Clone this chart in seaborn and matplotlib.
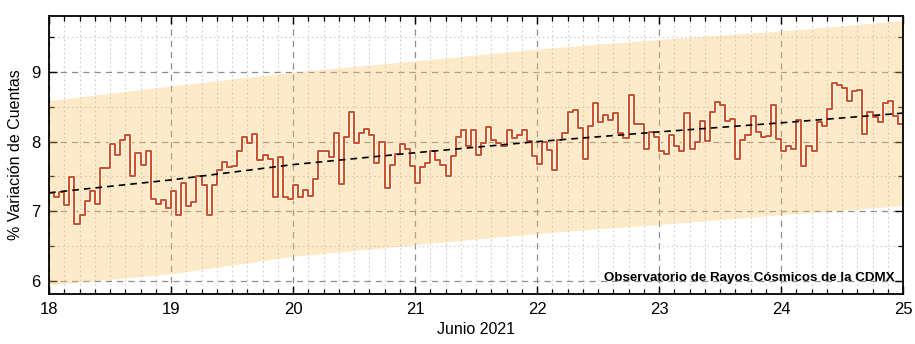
import numpy as np
import pandas as pd
import matplotlib
matplotlib.use("Agg")
import matplotlib.pyplot as plt
import matplotlib.patheffects as pe
from matplotlib.ticker import MultipleLocator
import seaborn as sns

# ---------------- data ----------------
start_day = 18
hourly_values = [
    7.26, 7.21, 7.28, 7.09, 7.49, 6.81, 6.95, 7.15, 7.29, 7.10,
    7.62, 7.62, 7.97, 7.81, 8.02, 8.09, 7.51, 7.84, 7.66, 7.87,
    7.17, 7.11, 7.16, 7.05, 7.29, 6.95, 7.41, 7.08, 7.13, 7.50,
    7.37, 6.94, 7.37, 7.59, 7.71, 7.63, 7.65, 7.87, 8.06, 7.98,
    8.11, 7.74, 7.81, 7.75, 7.20, 7.78, 7.20, 7.17, 7.38, 7.21,
    7.30, 7.22, 7.46, 7.87, 7.87, 7.78,
    8.13, 7.39, 8.06, 8.43, 7.98, 8.12, 8.18, 8.10, 7.69, 8.00,
    7.34, 7.66, 7.82, 7.96, 7.90, 7.65, 7.40, 7.63, 7.70, 7.87,
    7.74, 7.66, 7.51, 7.79, 8.06, 8.16, 7.94, 8.16, 7.81, 7.98,
    8.21, 8.02, 7.98, 7.93, 8.16, 8.05,
    8.10, 8.16, 8.01, 7.80, 7.68, 7.99, 7.88, 7.59, 8.03, 8.13,
    8.42, 8.46, 8.19, 7.75, 8.22, 8.56, 8.28, 8.38, 8.31, 8.41,
    8.12, 8.05, 8.67, 8.25, 8.26, 7.90, 8.14, 8.07, 7.87, 7.82,
    8.09, 7.93, 7.86, 8.41, 7.90, 8.00,
    8.30, 8.01, 8.42, 8.57, 8.53, 8.29, 8.32, 7.75, 8.02, 8.10,
    8.37, 8.14, 8.06, 8.08, 8.53, 8.04, 7.87, 7.94, 7.90, 8.31,
    7.65, 7.94, 7.86, 8.28, 8.22, 8.47, 8.84, 8.81, 8.77, 8.58,
    8.73, 8.74, 8.11, 8.42, 8.36, 8.28, 8.55, 8.59, 8.37, 8.25,
]
trend_days = [18, 19, 20, 21, 22, 23, 24, 25]
trend_vals = [7.265, 7.45, 7.67, 7.84, 8.00, 8.14, 8.27, 8.41]
band_lo = [5.94, 6.10, 6.35, 6.52, 6.68, 6.81, 6.95, 7.08]
band_hi = [8.59, 8.80, 9.00, 9.16, 9.33, 9.47, 9.59, 9.74]
day_ticks = [18, 19, 20, 21, 22, 23, 24, 25]
day_labels = ["18", "19", "20", "21", "22", "23", "24", "25"]
y_ticks = [6, 7, 8, 9]
y_labels = ["6", "7", "8", "9"]
x_title = "Junio 2021"
y_title = "% Variación de Cuentas"
credit = "Observatorio de Rayos Cósmicos de la CDMX"

# step series: hour i starts at day + i/24; repeat last value to close at 25
t = [start_day + i / 24 for i in range(len(hourly_values))] + [start_day + len(hourly_values) / 24]
v = hourly_values + [hourly_values[-1]]
df = pd.DataFrame({"t": t, "v": v})
trend_df = pd.DataFrame({"t": trend_days, "v": trend_vals})

# ---------------- figure ----------------
sns.set_style("ticks")
plt.rcParams["font.family"] = ["Liberation Sans", "DejaVu Sans"]
plt.rcParams["text.color"] = "black"
plt.rcParams["axes.labelcolor"] = "black"
plt.rcParams["xtick.color"] = "black"
plt.rcParams["ytick.color"] = "black"

fig = plt.figure(figsize=(9.15, 3.44), dpi=100)
ax = fig.add_axes([0.0536, 0.1453, 0.9333, 0.8081])

ax.fill_between(trend_days, band_lo, band_hi, color="#f9c363", alpha=0.35,
                lw=0, zorder=1)

sns.lineplot(data=df, x="t", y="v", ax=ax, drawstyle="steps-post",
             estimator=None, color="#c8502a", lw=1.4, zorder=4,
             path_effects=[pe.Stroke(linewidth=3.0, foreground="#fff4e2"),
                           pe.Normal()])

sns.lineplot(data=trend_df, x="t", y="v", ax=ax, color="black", lw=1.2,
             zorder=5, estimator=None)
ax.lines[-1].set_dashes([4, 3])

ax.set_xlim(18, 25)
ax.set_ylim(5.81, 9.805)
ax.set_xticks(day_ticks)
ax.set_xticklabels(day_labels)
ax.set_yticks(y_ticks)
ax.set_yticklabels(y_labels)
ax.xaxis.set_minor_locator(MultipleLocator(1 / 8))
ax.yaxis.set_minor_locator(MultipleLocator(0.5))

ax.set_axisbelow(True)
ax.grid(which="major", color="#8f8f8f", ls=(0, (5, 4)), lw=0.9)
ax.grid(which="minor", color="#cdcdcd", ls=(0, (1.5, 2.5)), lw=0.8)

ax.tick_params(which="both", direction="in", top=True, right=True,
               colors="black", labelcolor="black", labelsize=12)
ax.tick_params(which="major", length=6, width=1.0, pad=6)
ax.tick_params(which="minor", length=3.5, width=0.9)
for s in ax.spines.values():
    s.set_linewidth(1.3)
    s.set_color("black")
    s.set_zorder(6)

ax.set_xlabel(x_title, fontsize=11.5, labelpad=3, color="black")
ax.set_ylabel(y_title, fontsize=11.5, labelpad=6, color="black")

ax.text(0.9906, 0.0576, credit, transform=ax.transAxes, ha="right",
        va="center", fontsize=9.6, fontweight="bold", color="black", zorder=7)

fig.savefig("out.png", dpi=100)
